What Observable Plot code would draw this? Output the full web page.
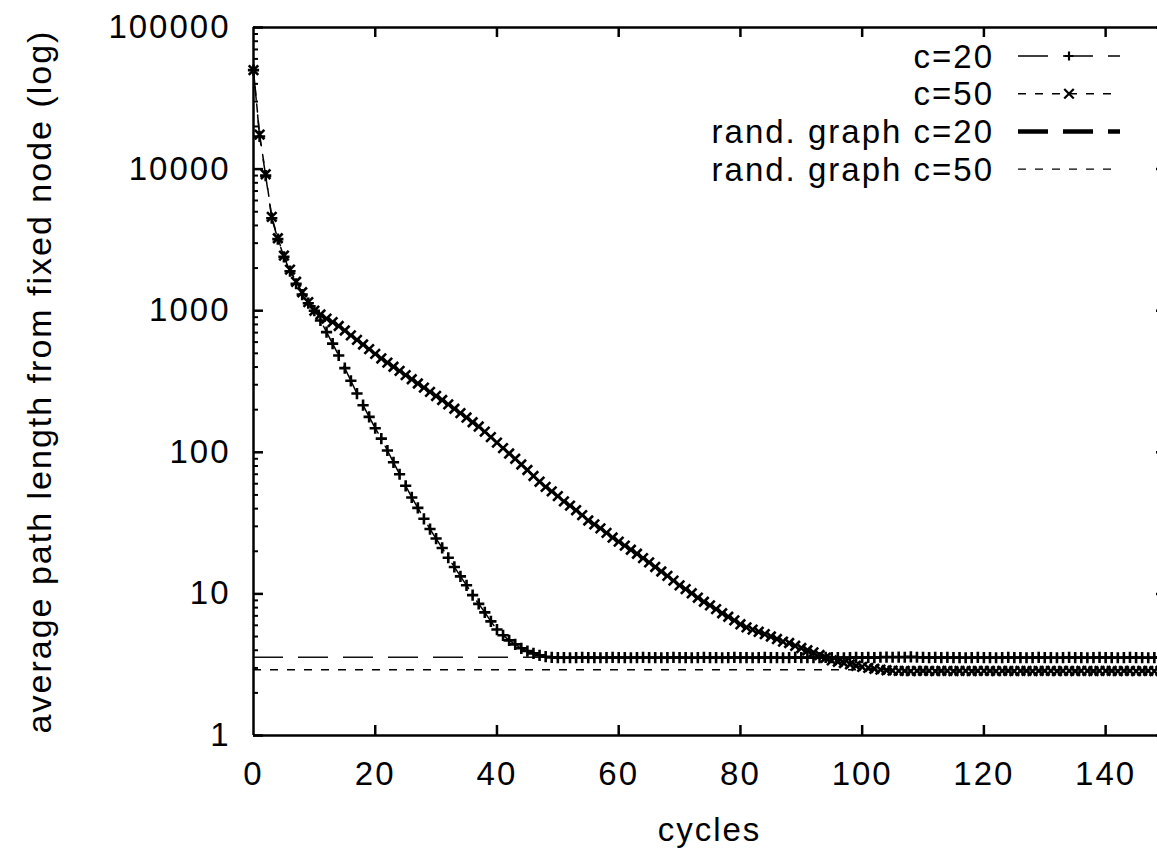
<!DOCTYPE html>
<html><head><meta charset="utf-8">
<script src="https://cdn.jsdelivr.net/npm/d3@7"></script>
<script src="https://cdn.jsdelivr.net/npm/@observablehq/plot@0.6"></script>
<style>
html,body{margin:0;padding:0;background:#fff;overflow:hidden}
</style></head><body><div id="chart"></div>
<script>
const cycles = [
0,1,2,3,4,5,6,7,8,9,10,
11,12,13,14,15,16,17,18,19,20,
21,22,23,24,25,26,27,28,29,30,
31,32,33,34,35,36,37,38,39,40,
41,42,43,44,45,46,47,48,49,50,
51,52,53,54,55,56,57,58,59,60,
61,62,63,64,65,66,67,68,69,70,
71,72,73,74,75,76,77,78,79,80,
81,82,83,84,85,86,87,88,89,90,
91,92,93,94,95,96,97,98,99,100,
101,102,103,104,105,106,107,108,109,110,
111,112,113,114,115,116,117,118,119,120,
121,122,123,124,125,126,127,128,129,130,
131,132,133,134,135,136,137,138,139,140,
141,142,143,144,145,146,147,148,149,150];

const c20 = [
50000,17000,9000,4500,3200,2400,1900,1550,1300,1130,1000,
853,706,585,483,393,320,260,215,178,148,
125,103,85,70,58,48,40.5,33.9,28.7,24.6,
21.1,18.0,15.5,13.3,11.5,9.8,8.5,7.4,6.4,5.6,
5.1,4.7,4.4,4.13,3.95,3.8,3.68,3.6,3.56,3.55,
3.55,3.54,3.55,3.56,3.55,3.55,3.54,3.55,3.56,3.55,
3.55,3.54,3.55,3.56,3.55,3.55,3.54,3.55,3.56,3.55,
3.55,3.54,3.55,3.56,3.55,3.55,3.54,3.55,3.56,3.55,
3.55,3.54,3.55,3.56,3.55,3.55,3.54,3.55,3.56,3.55,
3.55,3.54,3.55,3.56,3.55,3.55,3.54,3.55,3.56,3.55,
3.56,3.55,3.57,3.58,3.57,3.58,3.57,3.59,3.57,3.56,
3.55,3.56,3.55,3.56,3.55,3.55,3.54,3.55,3.56,3.55,
3.55,3.54,3.55,3.56,3.55,3.55,3.54,3.55,3.56,3.55,
3.55,3.54,3.55,3.56,3.55,3.55,3.54,3.55,3.56,3.55,
3.55,3.54,3.55,3.56,3.55,3.55,3.54,3.55,3.56,3.55];

const c50 = [
50000,17500,9200,4600,3250,2450,1950,1600,1350,1150,1000,
940,880,830,780,725,670,622,577,535,496,
460,430,402,376,351,328,306,286,267,250,
234,218,203,189,176,163,152,140,128,117,
107,98,90,82,75,68,62,57,53,49,
45,42,39,36,33,31,29,27,25,23.4,
21.9,20.5,19.2,17.9,16.7,15.5,14.4,13.4,12.4,11.5,
10.8,10.1,9.4,8.8,8.3,7.8,7.3,6.9,6.5,6.1,
5.8,5.6,5.4,5.2,5.0,4.8,4.6,4.5,4.3,4.15,
4.0,3.86,3.7,3.54,3.39,3.32,3.25,3.18,3.11,3.05,
3.0,2.96,2.92,2.89,2.87,2.86,2.86,2.85,2.86,2.86,
2.86,2.85,2.86,2.86,2.85,2.86,2.86,2.85,2.86,2.86,
2.86,2.85,2.86,2.86,2.85,2.86,2.86,2.85,2.86,2.86,
2.86,2.85,2.86,2.86,2.85,2.86,2.86,2.85,2.86,2.86,
2.86,2.85,2.86,2.86,2.85,2.86,2.86,2.85,2.86,2.86];

const randC20 = 3.57;
const randC50 = 2.91;

const xTicks = [0,20,40,60,80,100,120,140];
const yTicks = [1,10,100,1000,10000,100000];
const yMinorTicks = [2,3,4,5,6,7,8,9,20,30,40,50,60,70,80,90,200,300,400,500,600,700,800,900,
  2000,3000,4000,5000,6000,7000,8000,9000,20000,30000,40000,50000,60000,70000,80000,90000];

const seriesNames = ["c=20","c=50","rand. graph c=20","rand. graph c=50"];
const xLabel = "cycles";
const yLabel = "average path length from fixed node (log)";

const d20 = cycles.map((x,i)=>({x, y:c20[i]}));
const d50 = cycles.map((x,i)=>({x, y:c50[i]}));

const W = 1157, H = 848, ML = 253, MT = 27, MB = 113;
const plotH = H - MT - MB;
const rPlus = 3.7, rTimes = 4.4;

const plot = Plot.plot({
  width: W, height: H,
  marginLeft: ML, marginRight: 0, marginTop: MT, marginBottom: MB,
  style: {fontFamily: "'Liberation Sans', Arial, sans-serif", fontSize: "33px", letterSpacing: "2px", background: "#fff", color: "#000"},
  x: {domain: [0,150], range: [ML, 1166]},
  y: {type: "log", domain: [1, 100000]},
  marks: [
    Plot.ruleY([randC20], {stroke: "#111", strokeWidth: 1.6, strokeDasharray: "30,15"}),
    Plot.ruleY([randC50], {stroke: "#000", strokeWidth: 1.4, strokeDasharray: "8,9"}),
    Plot.lineY(d20, {x: "x", y: "y", stroke: "#000", strokeWidth: 1.5, strokeDasharray: "30,15"}),
    Plot.lineY(d50, {x: "x", y: "y", stroke: "#000", strokeWidth: 1.5, strokeDasharray: "8,9"}),
    Plot.dot(d20, {x: "x", y: "y", symbol: "plus", r: rPlus, fill: "none", stroke: "#000", strokeWidth: 2.6}),
    Plot.dot(d50, {x: "x", y: "y", symbol: "times", r: rTimes, fill: "none", stroke: "#000", strokeWidth: 2.6}),
    // frame
    Plot.ruleX([0], {stroke: "#000", strokeWidth: 2.5}),
    Plot.ruleY([1, 100000], {stroke: "#000", strokeWidth: 2.5}),
    // inward ticks
    Plot.tickX(xTicks.filter(d => d > 0), {x: d => d, insetTop: plotH - 10, stroke: "#000", strokeWidth: 2.5}),
    Plot.tickX(xTicks.filter(d => d > 0), {x: d => d, insetBottom: plotH - 10, stroke: "#000", strokeWidth: 2.5}),
    Plot.tickY(yTicks, {y: d => d, insetRight: W - ML - 10, stroke: "#000", strokeWidth: 2.5}),
    Plot.tickY(yMinorTicks, {y: d => d, insetRight: W - ML - 5, stroke: "#000", strokeWidth: 2}),
    Plot.tickY(yTicks, {y: d => d, insetLeft: 1156 - ML, stroke: "#000", strokeWidth: 2.5}),
    // axes labels
    Plot.axisY({ticks: yTicks, tickSize: 0, tickPadding: 23, tickFormat: d => String(d), label: null, fill: "#000"}),
    Plot.axisX({ticks: xTicks, tickSize: 0, tickPadding: 26, tickFormat: d => String(d), label: null, fill: "#000"}),
    Plot.text([xLabel], {frameAnchor: "bottom", dx: 4, dy: 95, lineAnchor: "middle", textAnchor: "middle", fill: "#000"}),
    Plot.text([yLabel], {frameAnchor: "left", dx: -213, rotate: -90, lineAnchor: "middle", textAnchor: "middle", fill: "#000", fontSize: 34})
  ]
});

document.getElementById("chart").appendChild(plot);

// legend (inside the plot, top right, gnuplot style)
const svg = d3.select(plot);
const lg = svg.append("g").attr("class", "legend");
const legendStyles = [
  {dash: "30,15", width: 1.5, symbol: d3.symbolPlus, size: Math.PI * 3 * 3},
  {dash: "8,9", width: 1.5, symbol: d3.symbolTimes, size: Math.PI * rTimes * rTimes},
  {dash: "30,15", width: 4.5, symbol: null},
  {dash: "8,9", width: 1.4, symbol: null}
];
seriesNames.forEach((name, i) => {
  const cy = 56 + i * 37.7;
  const s = legendStyles[i];
  lg.append("text").attr("x", 994).attr("y", cy).attr("dy", "0.35em")
    .attr("text-anchor", "end").attr("fill", "#000").text(name);
  lg.append("line").attr("x1", 1018).attr("x2", 1120).attr("y1", cy).attr("y2", cy)
    .attr("stroke", "#000").attr("stroke-width", s.width).attr("stroke-dasharray", s.dash);
  if (s.symbol) {
    lg.append("path").attr("transform", `translate(1069,${cy})`)
      .attr("d", d3.symbol(s.symbol, s.size)()).attr("fill", "none")
      .attr("stroke", "#000").attr("stroke-width", 2.2);
  }
});
</script>
</body></html>
